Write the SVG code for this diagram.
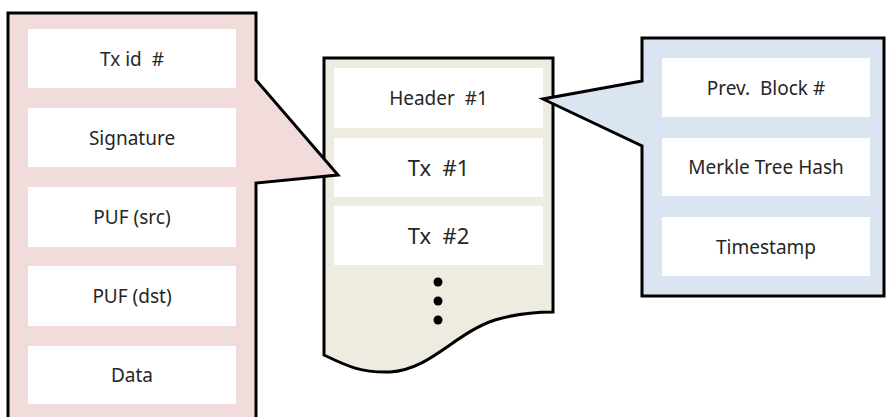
<svg xmlns="http://www.w3.org/2000/svg" width="887" height="417" viewBox="0 0 887 417">
<style>
.outline{stroke:#000;stroke-width:3;stroke-linejoin:miter}
.cell{fill:#fff}
.lbl{font-family:"Noto Sans","Open Sans","Liberation Sans",sans-serif;font-size:19px;fill:#262626;text-anchor:middle}
.big{font-size:22px}
</style>
<rect width="887" height="417" fill="#fff"/>
<g id="block">
<path class="outline" fill="#eeece1" d="M324,58 L553,58 L553,312 C535,312 515,314 495,320 C455,333 430,370 390,372 C360,373 345,365 324,355 Z"/>
<rect class="cell" x="334" y="68" width="209" height="60"/>
<rect class="cell" x="334" y="138" width="209" height="59"/>
<rect class="cell" x="334" y="206" width="209" height="59"/>
<text class="lbl" x="438.5" y="105">Header&#160; #1</text>
<text class="lbl big" x="438.5" y="176">Tx&#160; #1</text>
<text class="lbl big" x="438.5" y="244">Tx&#160; #2</text>
<circle cx="438" cy="282" r="4.5" fill="#000"/>
<circle cx="438" cy="301" r="4.5" fill="#000"/>
<circle cx="438" cy="320" r="4.5" fill="#000"/>
</g>
<g id="transaction">
<path class="outline" fill="#f2dcdb" d="M8,13 L256,13 L256,80 L338,175 L256,183 L256,422 L8,422 Z"/>
<rect class="cell" x="28" y="29" width="208" height="59"/>
<rect class="cell" x="28" y="108" width="208" height="59"/>
<rect class="cell" x="28" y="187" width="208" height="60"/>
<rect class="cell" x="28" y="266" width="208" height="60"/>
<rect class="cell" x="28" y="346" width="208" height="58"/>
<text class="lbl" x="132" y="66">Tx id&#160; #</text>
<text class="lbl" x="132" y="145">Signature</text>
<text class="lbl" x="132" y="224">PUF (src)</text>
<text class="lbl" x="132" y="303">PUF (dst)</text>
<text class="lbl" x="132" y="382">Data</text>
</g>
<g id="header">
<path class="outline" fill="#dbe5f1" d="M642,38 L884,38 L884,296 L642,296 L642,146 L543,99 L642,81 Z"/>
<rect class="cell" x="662" y="58" width="208" height="59"/>
<rect class="cell" x="662" y="138" width="208" height="58"/>
<rect class="cell" x="662" y="217" width="208" height="59"/>
<text class="lbl" x="766" y="95">Prev.&#160; Block #</text>
<text class="lbl" x="766" y="174">Merkle Tree Hash</text>
<text class="lbl" x="766" y="254">Timestamp</text>
</g>
<g id="connectors"></g>
</svg>
